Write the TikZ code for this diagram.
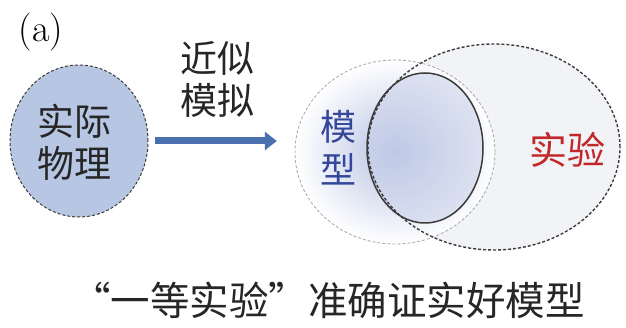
\documentclass[tikz,border=0pt]{standalone}
\usepackage{fontspec}
\newfontfamily\cjk{Noto Sans CJK SC}
\usetikzlibrary{shapes.geometric,arrows.meta}
\definecolor{physfill}{HTML}{B7C7E3}
\definecolor{arrowblue}{HTML}{4A70B0}
\definecolor{modelblue}{HTML}{34479A}
\definecolor{exred}{HTML}{C0282A}
\definecolor{exfill}{HTML}{F2F3F7}
\definecolor{innerfill}{HTML}{C9D1EA}
\definecolor{shadeblue}{HTML}{AEBBE0}
\definecolor{darkline}{HTML}{3C3C3C}
\tikzset{
  cjktext/.style={font=\cjk\fontsize{37}{42}\selectfont, inner sep=0pt, align=center},
  blob/.style={ellipse, inner sep=0pt},
}
\begin{document}
\begin{tikzpicture}[x=1pt,y=-1pt]
\useasboundingbox (0,0) rectangle (626,328);
% label
\node[font=\fontsize{38}{42}\selectfont, inner sep=0pt] (lbl) at (41,32) {(a)};
% physics circle
\node[blob, minimum width=138pt, minimum height=152pt, fill=physfill,
      draw=darkline, densely dashed, line width=1pt] (phys) at (79,141) {};
\node[cjktext, text=black!85] (physt) at (74,142) {实际\\物理};
% approx label
\node[cjktext, text=black!85] (approx) at (217,79) {近似\\模拟};
% experiment ellipse (fill)
\node[blob, minimum width=252pt, minimum height=206pt, fill=exfill] (exp) at (494,147) {};
% model outer ellipse with shading
\node[blob, minimum width=200pt, minimum height=184pt, inner color=shadeblue, outer color=white,
      opacity=0.9] (model) at (395,152) {};
% inner circle
\node[blob, minimum width=116pt, minimum height=150pt, fill=innerfill, fill opacity=0.55] (inner) at (425,148) {};
% borders
\draw[black!35, densely dashed, line width=0.8pt] (model.center) ellipse [x radius=100pt, y radius=92pt];
\draw[darkline, line width=1.5pt] (inner.center) ellipse [x radius=58pt, y radius=75pt];
\draw[darkline, densely dashed, line width=1.4pt] (exp.center) ellipse [x radius=126pt, y radius=103pt];
% texts
\node[cjktext, text=modelblue, font=\cjk\fontsize{36}{43}\selectfont] (modelt) at (338,148) {模\\型};
\node[cjktext, text=exred, font=\cjk\fontsize{38}{42}\selectfont] (expt) at (567,150) {实验};
% arrow
\draw[arrowblue, line width=7pt, -{Triangle[length=12pt,width=18pt]},
      shorten <=6pt, shorten >=18pt] (phys.east) -- (phys.east -| model.west);
% caption
\node[cjktext, text=black!85, font=\cjk\fontsize{39.5}{42}\selectfont] (cap) at (328,300) {“一等实验”准确证实好模型};
\end{tikzpicture}
\end{document}
